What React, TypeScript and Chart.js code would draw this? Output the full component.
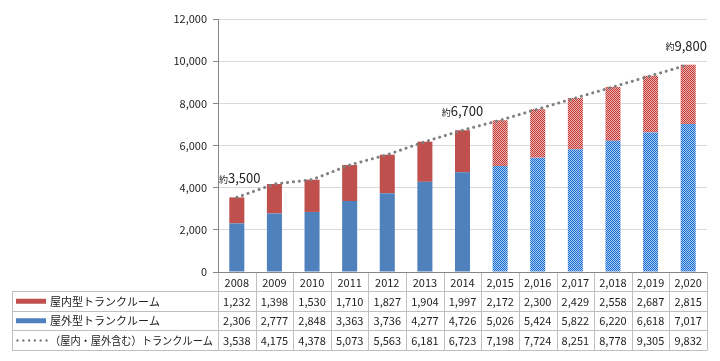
import React, { useEffect, useRef } from "react";
import { Chart, registerables } from "chart.js";

Chart.register(...registerables);

const categories = ["2008", "2009", "2010", "2011", "2012", "2013", "2014", "2,015", "2,016", "2,017", "2,018", "2,019", "2,020"];
const indoor = [1232, 1398, 1530, 1710, 1827, 1904, 1997, 2172, 2300, 2429, 2558, 2687, 2815];
const outdoor = [2306, 2777, 2848, 3363, 3736, 4277, 4726, 5026, 5424, 5822, 6220, 6618, 7017];
const total = [3538, 4175, 4378, 5073, 5563, 6181, 6723, 7198, 7724, 8251, 8778, 9305, 9832];
const forecastFrom = 7;
const seriesNames = ["屋内型トランクルーム", "屋外型トランクルーム", "（屋内・屋外含む）トランクルーム"];
const calloutIndex = [0, 6, 12];
const calloutText = ["3,500", "6,700", "9,800"];
const calloutPrefix = "約";
const yTicks = [0, 2000, 4000, 6000, 8000, 10000, 12000];

const RED = "#C0504D";
const BLUE = "#4F81BD";
const FONT = "'Noto Sans CJK JP', 'Noto Sans', sans-serif";

function makePattern(color: string, light: string): CanvasPattern | string {
  const c = document.createElement("canvas");
  c.width = 2;
  c.height = 2;
  const g = c.getContext("2d");
  if (!g) return color;
  g.fillStyle = light;
  g.fillRect(0, 0, 2, 2);
  g.fillStyle = color;
  g.fillRect(0, 0, 1, 1);
  g.fillRect(1, 1, 1, 1);
  const p = g.createPattern(c, "repeat");
  return p || color;
}

const fmt = (v: number) => v.toLocaleString("en-US");

const tablePlugin = {
  id: "dataTable",
  afterDraw(chart: any) {
    const ctx = chart.ctx as CanvasRenderingContext2D;
    const area = chart.chartArea;
    const xs = chart.scales.x;
    const ys = chart.scales.y;
    const n = categories.length;
    const left = area.left;
    const right = area.right;
    const colW = (right - left) / n;
    const top = area.bottom;
    const rowTops = [top, top + 19, top + 38.5, top + 58, top + 78];
    const tableLeft = 12;

    ctx.save();
    // callouts
    ctx.textBaseline = "middle";
    calloutIndex.forEach((idx, k) => {
      const px = xs.getPixelForValue(idx);
      const py = ys.getPixelForValue(total[idx]);
      ctx.font = `9px ${FONT}`;
      const w1 = ctx.measureText(calloutPrefix).width;
      ctx.font = `13px ${FONT}`;
      const w2 = ctx.measureText(calloutText[k]).width;
      let sx = px - (w1 + w2) / 2;
      if (sx < left + 1) sx = left + 1;
      if (sx + w1 + w2 > right) sx = right - (w1 + w2);
      const cy = py - 19;
      ctx.fillStyle = "#222";
      ctx.textAlign = "left";
      ctx.font = `9px ${FONT}`;
      ctx.fillText(calloutPrefix, sx, cy + 1);
      ctx.font = `13px ${FONT}`;
      ctx.fillText(calloutText[k], sx + w1, cy);
    });

    // grid lines
    ctx.strokeStyle = "#BFBFBF";
    ctx.lineWidth = 1;
    ctx.beginPath();
    for (let r = 1; r < rowTops.length; r++) {
      const y = Math.round(rowTops[r]) + 0.5;
      ctx.moveTo(tableLeft, y);
      ctx.lineTo(right, y);
    }
    for (let i = 0; i <= n; i++) {
      const x = Math.round(left + i * colW) + 0.5;
      ctx.moveTo(x, Math.round(top));
      ctx.lineTo(x, Math.round(rowTops[4]) + 0.5);
    }
    const lx = tableLeft + 0.5;
    ctx.moveTo(lx, Math.round(rowTops[1]) + 0.5);
    ctx.lineTo(lx, Math.round(rowTops[4]) + 0.5);
    ctx.stroke();

    // axis line on top
    ctx.strokeStyle = "#868686";
    ctx.beginPath();
    ctx.moveTo(left, Math.round(top) + 0.5);
    ctx.lineTo(right, Math.round(top) + 0.5);
    ctx.stroke();

    // texts
    ctx.fillStyle = "#222";
    ctx.font = `11px ${FONT}`;
    ctx.textAlign = "center";
    ctx.textBaseline = "middle";
    const rows = [categories, indoor.map(fmt), outdoor.map(fmt), total.map(fmt)];
    rows.forEach((row, r) => {
      const cy = (rowTops[r] + rowTops[r + 1]) / 2 + 1;
      row.forEach((t, i) => {
        ctx.fillText(String(t), left + (i + 0.5) * colW, cy);
      });
    });

    // legend column
    ctx.textAlign = "left";
    const markerColors = [RED, BLUE];
    const maxW = left - 50 - 5;
    for (let r = 0; r < 3; r++) {
      const cy = (rowTops[r + 1] + rowTops[r + 2]) / 2;
      if (r < 2) {
        ctx.fillStyle = markerColors[r];
        ctx.fillRect(16, cy - 2, 30, 5);
      } else {
        ctx.fillStyle = "#7F7F7F";
        for (let d = 0; d < 6; d++) {
          ctx.beginPath();
          ctx.arc(17.5 + d * 5.8, cy + 0.5, 1.2, 0, Math.PI * 2);
          ctx.fill();
        }
      }
      ctx.fillStyle = "#222";
      ctx.fillText(seriesNames[r], 50, cy + 1, maxW);
    }
    ctx.restore();
  },
};

export default function App() {
  const ref = useRef<HTMLCanvasElement | null>(null);

  useEffect(() => {
    document.body.style.margin = "0";
    const canvas = ref.current;
    if (!canvas) return;
    const redPat = makePattern("#C33A36", "#EDB3B1");
    const bluePat = makePattern("#1A6BD0", "#A9CCF2");
    const redBg = indoor.map((_, i) => (i >= forecastFrom ? redPat : RED));
    const blueBg = outdoor.map((_, i) => (i >= forecastFrom ? bluePat : BLUE));

    const chart = new Chart(canvas, {
      type: "bar",
      data: {
        labels: categories,
        datasets: [
          {
            type: "line",
            label: seriesNames[2],
            data: total,
            borderColor: "#7F7F7F",
            borderWidth: 3,
            borderDash: [0.1, 5.8],
            borderCapStyle: "round",
            pointRadius: 0,
            tension: 0,
            stack: "line",
            order: 0,
          } as any,
          {
            label: seriesNames[1],
            data: outdoor,
            backgroundColor: blueBg as any,
            stack: "bars",
            categoryPercentage: 1,
            barPercentage: 0.4,
            order: 1,
          },
          {
            label: seriesNames[0],
            data: indoor,
            backgroundColor: redBg as any,
            stack: "bars",
            categoryPercentage: 1,
            barPercentage: 0.4,
            order: 2,
          },
        ],
      },
      options: {
        animation: false,
        responsive: false,
        maintainAspectRatio: false,
        layout: { padding: { top: 19, left: 0, right: 13, bottom: 89 } },
        plugins: { legend: { display: false }, tooltip: { enabled: false } },
        scales: {
          x: { display: false, stacked: true },
          y: {
            stacked: true,
            min: 0,
            max: 12000,
            afterFit: (s: any) => {
              s.width = 218;
            },
            afterBuildTicks: (s: any) => {
              s.ticks = yTicks.map((v) => ({ value: v }));
            },
            ticks: {
              callback: (v: any) => fmt(Number(v)),
              color: "#222",
              font: { family: FONT, size: 11 },
              padding: 6,
            },
            grid: {
              color: "#D9D9D9",
              tickColor: "#868686",
              tickLength: 5,
            },
            border: { color: "#868686" },
          },
        },
      },
      plugins: [tablePlugin],
    });
    return () => chart.destroy();
  }, []);

  return <canvas ref={ref} width={720} height={361} style={{ display: "block" }} />;
}
